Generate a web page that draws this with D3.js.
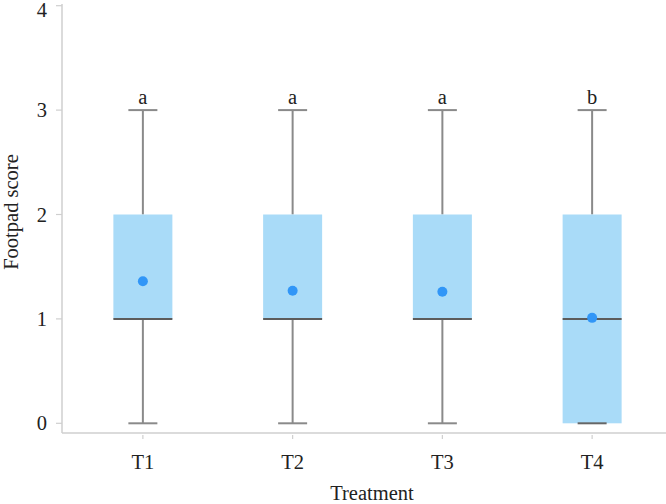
<!DOCTYPE html>
<html>
<head>
<meta charset="utf-8">
<script src="https://cdn.jsdelivr.net/npm/d3@7"></script>
<style>
  body { margin: 0; background: #fff; }
  text { font-family: "Liberation Serif", "Times New Roman", serif; fill: #222; }
</style>
</head>
<body>
<svg id="chart"></svg>
<script>
const svgWidth = 666;
const svgHeight = 504;

// data
const treatments = ["T1", "T2", "T3", "T4"];
const mins = [0, 0, 0, 0];
const q1s = [1, 1, 1, 0];
const medians = [1, 1, 1, 1];
const q3s = [2, 2, 2, 2];
const maxs = [3, 3, 3, 3];
const means = [1.36, 1.27, 1.26, 1.01];
const letters = ["a", "a", "a", "b"];
const yTicks = [0, 1, 2, 3, 4];

const boxes = treatments.map((t, i) => ({
    name: t, min: mins[i], q1: q1s[i], median: medians[i],
    q3: q3s[i], max: maxs[i], mean: means[i], letter: letters[i]
}));

const svg = d3.select("#chart")
    .attr("width", svgWidth)
    .attr("height", svgHeight);

const axisLeft = 62;
const axisBottom = 433;
const fontSize = "20.5px";

const x = d3.scalePoint().domain(treatments).range([68, 667]).padding(0.5);
const y = d3.scaleLinear().domain([0, 4]).range([423.3, 5.7]);

const boxW = 59;
const capW = 29;
const axisColor = "#cfcfcf";

// axes lines
svg.append("line")
    .attr("x1", axisLeft).attr("x2", axisLeft)
    .attr("y1", 4).attr("y2", axisBottom)
    .attr("stroke", axisColor).attr("stroke-width", 1.5);
svg.append("line")
    .attr("x1", axisLeft).attr("x2", svgWidth)
    .attr("y1", axisBottom).attr("y2", axisBottom)
    .attr("stroke", axisColor).attr("stroke-width", 1.5);

// y ticks + labels
const yg = svg.append("g");
yg.selectAll("line")
    .data(yTicks).enter().append("line")
    .attr("x1", axisLeft - 6).attr("x2", axisLeft)
    .attr("y1", d => y(d)).attr("y2", d => y(d))
    .attr("stroke", axisColor).attr("stroke-width", 1.2);
yg.selectAll("text")
    .data(yTicks).enter().append("text")
    .attr("x", 47).attr("y", d => Math.max(y(d), 10))
    .attr("dy", "0.35em")
    .attr("text-anchor", "end")
    .style("font-size", fontSize)
    .text(d => d);

// x ticks + labels
const xg = svg.append("g");
xg.selectAll("line")
    .data(treatments).enter().append("line")
    .attr("x1", d => x(d)).attr("x2", d => x(d))
    .attr("y1", axisBottom + 2).attr("y2", axisBottom + 6)
    .attr("stroke", axisColor).attr("stroke-width", 1.2);
xg.selectAll("text")
    .data(treatments).enter().append("text")
    .attr("x", d => x(d)).attr("y", 469)
    .attr("text-anchor", "middle")
    .style("font-size", fontSize)
    .text(d => d);

// axis titles
svg.append("text")
    .attr("x", 372).attr("y", 500)
    .attr("text-anchor", "middle")
    .style("font-size", fontSize)
    .text("Treatment");
svg.append("text")
    .attr("transform", "translate(18,212) rotate(-90)")
    .attr("text-anchor", "middle")
    .style("font-size", fontSize)
    .text("Footpad score");

// boxes
const g = svg.selectAll(".box")
    .data(boxes).enter().append("g")
    .attr("class", "box");

// whiskers
g.append("line")
    .attr("x1", d => x(d.name)).attr("x2", d => x(d.name))
    .attr("y1", d => y(d.max)).attr("y2", d => y(d.q3))
    .attr("stroke", "#8a8a8a").attr("stroke-width", 2);
g.append("line")
    .attr("x1", d => x(d.name)).attr("x2", d => x(d.name))
    .attr("y1", d => y(d.q1)).attr("y2", d => y(d.min))
    .attr("stroke", "#8a8a8a").attr("stroke-width", 2);

g.append("rect")
    .attr("x", d => x(d.name) - boxW / 2)
    .attr("width", boxW)
    .attr("y", d => y(d.q3))
    .attr("height", d => y(d.q1) - y(d.q3))
    .attr("fill", "#a9dbf8");

// caps
g.append("line")
    .attr("x1", d => x(d.name) - capW / 2).attr("x2", d => x(d.name) + capW / 2)
    .attr("y1", d => y(d.max)).attr("y2", d => y(d.max))
    .attr("stroke", "#8a8a8a").attr("stroke-width", 2);
g.append("line")
    .attr("x1", d => x(d.name) - capW / 2).attr("x2", d => x(d.name) + capW / 2)
    .attr("y1", d => y(d.min)).attr("y2", d => y(d.min))
    .attr("stroke", d => d.q1 === d.min ? "#666" : "#8a8a8a").attr("stroke-width", 2);

// median
g.append("line")
    .attr("x1", d => x(d.name) - boxW / 2).attr("x2", d => x(d.name) + boxW / 2)
    .attr("y1", d => y(d.median)).attr("y2", d => y(d.median))
    .attr("stroke", "#5c5c5c").attr("stroke-width", 2);

// mean dot
g.append("circle")
    .attr("cx", d => x(d.name))
    .attr("cy", d => y(d.mean))
    .attr("r", 5)
    .attr("fill", "#3196f7");

// significance letters
g.append("text")
    .attr("x", d => x(d.name))
    .attr("y", d => y(d.max) - 6)
    .attr("text-anchor", "middle")
    .style("font-size", fontSize)
    .text(d => d.letter);
</script>
</body>
</html>
